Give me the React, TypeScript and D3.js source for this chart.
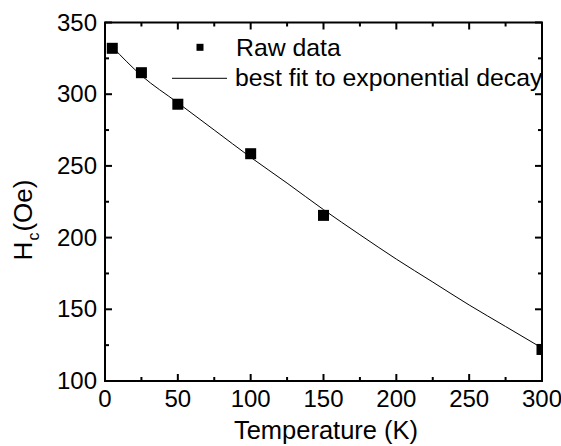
import React from "react";
import * as d3 from "d3";

// Coercivity vs temperature
const rawTemps = [5, 25, 50, 100, 150, 300];
const rawHc = [332, 315, 293, 258.5, 215.5, 122];

// Exponential-decay fit curve, sampled along T
const fitTemps = [5, 25, 50, 75, 100, 125, 150, 175, 200, 225, 250, 275, 300];
const fitHc = [333, 313, 294, 275, 256, 238, 219.5, 202, 185, 169, 153, 138, 123];

const xMajorTicks = [0, 50, 100, 150, 200, 250, 300];
const xMinorTicks = [25, 75, 125, 175, 225, 275];
const yMajorTicks = [100, 150, 200, 250, 300, 350];
const yMinorTicks = [125, 175, 225, 275, 325];

const legendLabels = ["Raw data", "best fit to exponential decay"];

const W = 561;
const H = 446;
const left = 105;
const right = 542;
const top = 22.5;
const bottom = 381;

const FONT = "'Liberation Sans', Arial, sans-serif";

export default function App() {
  const x = d3.scaleLinear().domain([0, 300]).range([left, right]);
  const y = d3.scaleLinear().domain([100, 350]).range([bottom, top]);

  const fitLine = d3
    .line<number>()
    .x((_, i) => x(fitTemps[i]))
    .y((d) => y(d))
    .curve(d3.curveMonotoneX);

  const major = 7;
  const minor = 4;
  const msize = 11;

  return (
    <svg
      width={W}
      height={H}
      style={{ position: "absolute", left: 0, top: 0, background: "#fff" }}
      fontFamily={FONT}
    >
      <defs>
        <clipPath id="plotArea">
          <rect x={left} y={top} width={right - left} height={bottom - top} />
        </clipPath>
      </defs>

      {/* fit curve */}
      <path
        d={fitLine(fitHc) ?? ""}
        fill="none"
        stroke="#000"
        strokeWidth={1}
        clipPath="url(#plotArea)"
      />

      {/* raw data markers */}
      <g clipPath="url(#plotArea)">
        {rawTemps.map((t, i) => (
          <rect
            key={i}
            x={x(t) - msize / 2}
            y={y(rawHc[i]) - msize / 2}
            width={msize}
            height={msize}
            fill="#000"
          />
        ))}
      </g>

      {/* ticks on all four sides, pointing inward */}
      <g stroke="#000" strokeWidth={2}>
        {xMajorTicks.map((t) => (
          <g key={"xM" + t}>
            <line x1={x(t)} x2={x(t)} y1={bottom} y2={bottom - major} />
            <line x1={x(t)} x2={x(t)} y1={top} y2={top + major} />
          </g>
        ))}
        {xMinorTicks.map((t) => (
          <g key={"xm" + t}>
            <line x1={x(t)} x2={x(t)} y1={bottom} y2={bottom - minor} />
            <line x1={x(t)} x2={x(t)} y1={top} y2={top + minor} />
          </g>
        ))}
        {yMajorTicks.map((v) => (
          <g key={"yM" + v}>
            <line x1={left} x2={left + major} y1={y(v)} y2={y(v)} />
            <line x1={right} x2={right - major} y1={y(v)} y2={y(v)} />
          </g>
        ))}
        {yMinorTicks.map((v) => (
          <g key={"ym" + v}>
            <line x1={left} x2={left + minor} y1={y(v)} y2={y(v)} />
            <line x1={right} x2={right - minor} y1={y(v)} y2={y(v)} />
          </g>
        ))}
      </g>

      {/* frame */}
      <rect
        x={left}
        y={top}
        width={right - left}
        height={bottom - top}
        fill="none"
        stroke="#000"
        strokeWidth={2}
      />

      {/* tick labels */}
      <g fontSize={24} fill="#000">
        {xMajorTicks.map((t) => (
          <text key={"xl" + t} x={x(t)} y={407} textAnchor="middle">
            {t}
          </text>
        ))}
        {yMajorTicks.map((v) => (
          <text key={"yl" + v} x={97} y={y(v) + 8} textAnchor="end">
            {v}
          </text>
        ))}
      </g>

      {/* axis titles */}
      <text x={326} y={439} fontSize={25.5} textAnchor="middle" fill="#000">
        Temperature (K)
      </text>
      <text
        transform="translate(32,220) rotate(-90)"
        fontSize={26}
        textAnchor="middle"
        fill="#000"
      >
        H
        <tspan fontSize={16} dx={1} dy={7}>
          c
        </tspan>
        <tspan dx={1} dy={-7}>(Oe)</tspan>
      </text>

      {/* legend */}
      <rect x={200 - 3.5} y={47.3 - 3.5} width={7} height={7} fill="#000" />
      <text x={236} y={56} fontSize={24.8} fill="#000">
        {legendLabels[0]}
      </text>
      <line x1={172} x2={227} y1={78.3} y2={78.3} stroke="#000" strokeWidth={1} />
      <text x={235} y={86} fontSize={24.8} fill="#000">
        {legendLabels[1]}
      </text>
    </svg>
  );
}
